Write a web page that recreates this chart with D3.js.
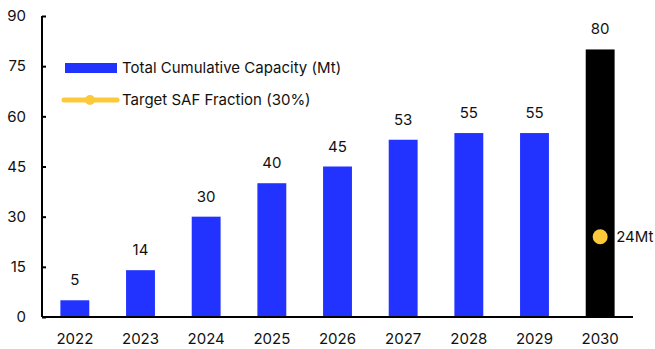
<!DOCTYPE html>
<html>
<head>
<meta charset="utf-8">
<script src="https://cdn.jsdelivr.net/npm/d3@7"></script>
<style>
  html, body { margin: 0; padding: 0; background: #fff; }
  svg { display: block; font-family: Inter, "Noto Sans", sans-serif; }
</style>
</head>
<body>
<svg id="chart" width="655" height="349"></svg>
<script>
const years = ["2022", "2023", "2024", "2025", "2026", "2027", "2028", "2029", "2030"];
const capacity = [5, 14, 30, 40, 45, 53, 55, 55, 80];
const targetYear = "2030";
const targetValue = 24;
const targetLabel = "24Mt";
const yTicks = [0, 15, 30, 45, 60, 75, 90];
const legendLabels = ["Total Cumulative Capacity (Mt)", "Target SAF Fraction (30%)"];

const BLUE = "#2233ff";
const YELLOW = "#fbc93a";
const FONT = 15;

const svg = d3.select("#chart");
const plotLeft = 42, plotRight = 633, plotTop = 16, plotBottom = 317;

const x = d3.scaleBand().domain(years).range([plotLeft, plotRight]).paddingInner(0.56).paddingOuter(0.28);
const y = d3.scaleLinear().domain([0, 90]).range([plotBottom, plotTop]);

const rows = years.map((yr, i) => ({ yr, v: capacity[i] }));

// Bars
svg.append("g").selectAll("rect")
  .data(rows)
  .join("rect")
  .attr("x", d => x(d.yr))
  .attr("width", x.bandwidth())
  .attr("y", d => y(d.v))
  .attr("height", d => y(0) - y(d.v))
  .attr("fill", d => d.yr === targetYear ? "#000" : BLUE);

// Value labels above bars
svg.append("g").selectAll("text")
  .data(rows)
  .join("text")
  .attr("x", d => x(d.yr) + x.bandwidth() / 2)
  .attr("y", d => y(d.v) - 15)
  .attr("text-anchor", "middle")
  .attr("font-size", FONT)
  .attr("fill", "#111")
  .text(d => d.v);

// Target marker
const tx = x(targetYear) + x.bandwidth() / 2;
svg.append("circle")
  .attr("cx", tx).attr("cy", y(targetValue)).attr("r", 7.5)
  .attr("fill", YELLOW);
svg.append("text")
  .attr("x", tx + 16).attr("y", y(targetValue))
  .attr("dy", "0.35em")
  .attr("font-size", FONT)
  .attr("fill", "#111")
  .text(targetLabel);

// Y axis
const yAxis = svg.append("g")
  .attr("transform", `translate(${plotLeft},0)`)
  .call(d3.axisLeft(y).tickValues(yTicks).tickSize(-4).tickPadding(16));
yAxis.attr("font-family", null).attr("font-size", FONT);
yAxis.select(".domain").attr("stroke", "#000").attr("stroke-width", 2).attr("d", `M0,${plotTop}V${plotBottom}`);
yAxis.selectAll(".tick line").attr("stroke", "#000").attr("stroke-width", 2);
yAxis.selectAll(".tick text").attr("fill", "#111").attr("x", -16);

// X axis
const xAxis = svg.append("g")
  .attr("transform", `translate(0,${plotBottom})`)
  .call(d3.axisBottom(x).tickSize(0).tickPadding(16));
xAxis.attr("font-family", null).attr("font-size", FONT);
xAxis.select(".domain").attr("stroke", "#000").attr("stroke-width", 2)
  .attr("d", `M${plotLeft},0H${plotRight}`);
xAxis.selectAll(".tick text").attr("fill", "#111");

// Legend
const lg = svg.append("g");
lg.append("rect").attr("x", 65).attr("y", 63).attr("width", 52).attr("height", 10).attr("fill", BLUE);
lg.append("text").attr("x", 122).attr("y", 68).attr("dy", "0.35em").attr("font-size", FONT).attr("fill", "#111").text(legendLabels[0]);
lg.append("line").attr("x1", 64).attr("x2", 117).attr("y1", 100).attr("y2", 100)
  .attr("stroke", YELLOW).attr("stroke-width", 5).attr("stroke-linecap", "round");
lg.append("circle").attr("cx", 90).attr("cy", 100).attr("r", 5).attr("fill", YELLOW);
lg.append("text").attr("x", 122).attr("y", 100).attr("dy", "0.35em").attr("font-size", FONT).attr("fill", "#111").text(legendLabels[1]);
</script>
</body>
</html>
